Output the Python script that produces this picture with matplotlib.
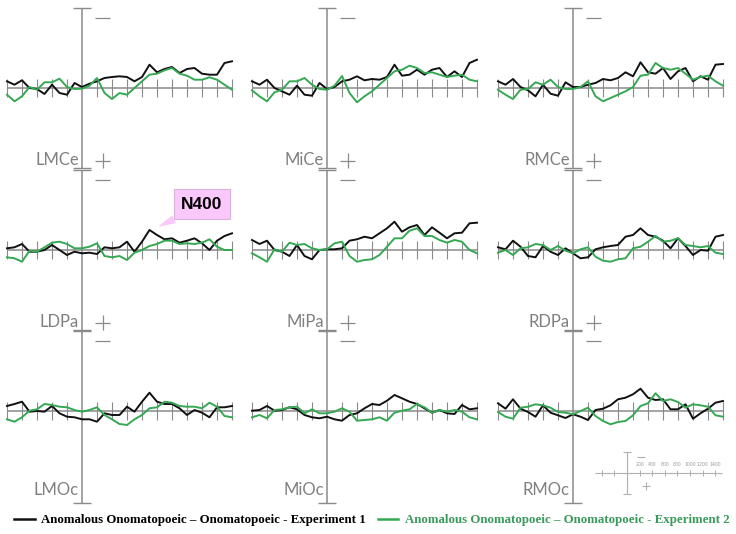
import numpy as np
import matplotlib.pyplot as plt
from matplotlib.lines import Line2D

# time axis (ms), one sample every 50 ms
times = np.arange(-500, 1001, 50)

# amplitudes in microvolts (negative plotted up)
lmce_exp1 = [-0.67, -0.33, -0.77, 0, 0.1, 0.6, -0.33, 0.5, 0.67, -0.5, -0.1, -0.43, -0.67, -1.0, -1.1, -1.17,
             -1.1, -0.67, -1.1, -2.33, -1.57, -1.9, -2.1, -1.5, -1.9, -2.0, -1.43, -1.33, -1.33, -2.5, -2.67]
lmce_exp2 = [0.67, 1.33, 0.83, -0.1, 0.17, -0.57, -0.57, -0.93, -0.1, 0.1, 0.07, -0.23, -1.0, 0.5, 1.1, 0.5,
             0.67, 0, -0.67, -1.33, -1.43, -1.77, -2.0, -1.43, -1.23, -0.83, -0.83, -1.07, -0.83, -0.33, 0.17]
mice_exp1 = [-0.67, -0.33, -0.83, 0, 0.33, 0.67, -0.23, 0.67, 0.77, -0.5, 0.1, -0.1, -0.67, -0.83, -1.17, -0.77,
             -0.9, -0.83, -1.1, -2.33, -1.23, -1.33, -1.83, -1.33, -1.83, -2.0, -1.1, -1.67, -1.1, -2.5, -2.83]
mice_exp2 = [0.23, 0.83, 1.33, 0.43, 0.17, -0.67, -0.67, -1.0, -0.33, 0.1, 0.17, -0.23, -1.2, 0.5, 1.43, 0.83,
             0.33, -0.33, -1.0, -1.67, -1.83, -2.23, -2.0, -1.5, -1.57, -1.33, -1.1, -1.23, -1.33, -0.83, -0.67]
rmce_exp1 = [-0.67, -0.33, -0.9, -0.1, 0.23, 0.83, -0.33, 0.57, 0.77, -0.57, -0.1, -0.1, -0.33, -0.5, -0.9, -0.77,
             -1.0, -1.57, -1.17, -2.57, -1.57, -1.43, -2.0, -0.9, -1.67, -2.0, -0.67, -1.17, -0.83, -2.33, -2.4]
rmce_exp2 = [0.17, 0.67, 1.1, 0.17, 0.1, -0.57, -0.33, -0.83, -0.1, 0.1, 0.1, -0.1, -0.67, 0.83, 1.33, 1.0,
             0.67, 0.33, -0.1, -1.23, -1.33, -2.5, -2.0, -1.83, -2.0, -1.43, -0.83, -1.1, -1.23, -0.67, -0.23]

ldpa_exp1 = [-0.17, -0.27, -0.6, 0.17, 0.17, 0, -0.5, 0, 0.5, 0.17, 0.33, 0.27, 0.4, -0.27, -0.17, -0.27,
             -0.83, 0.17, -0.83, -2.0, -1.5, -1.07, -1.17, -0.73, -0.93, -1.17, -0.67, 0, -0.93, -1.4, -1.67]
ldpa_exp2 = [0.73, 0.83, 1.17, 0.07, 0.17, -0.27, -0.73, -0.83, -0.6, -0.17, -0.17, -0.33, -0.67, 0.6, 0.73, 0.6,
             1.0, 0.27, 0, -0.4, -0.6, -0.93, -0.93, -0.6, -0.67, -0.6, -0.73, -1.07, -0.33, 0, 0]
mipa_exp1 = [-1.0, -0.6, -0.93, 0, 0.17, 0.6, -0.5, 0.6, 0.93, 0, -0.07, -0.07, -0.17, -0.93, -1.07, -1.33,
             -1.17, -1.67, -2.17, -2.83, -1.83, -2.27, -2.5, -1.5, -2.27, -1.73, -1.17, -1.67, -1.73, -2.67, -2.73]
mipa_exp2 = [0.33, 0.73, 1.17, -0.07, 0.17, -0.73, -0.5, -0.6, -0.17, 0, -0.07, -0.67, -0.83, 0.6, 1.17, 1.0,
             0.93, 0.5, -0.33, -1.17, -1.17, -1.93, -2.17, -1.4, -1.4, -1.0, -0.73, -1.0, -0.83, 0, 0.33]
rdpa_exp1 = [-0.27, -0.07, -0.93, -0.33, 0.6, 0.73, -0.4, 0.17, 0.5, -0.17, 0.33, 0.83, 0.73, -0.07, -0.27, -0.4,
             -0.5, -1.33, -1.5, -2.17, -1.5, -1.33, -0.93, -0.17, -1.17, -0.4, 0.5, 0, 0.07, -1.33, -1.5]
rdpa_exp2 = [0.27, 0, 0.5, -0.17, -0.27, -0.6, -0.5, 0, -0.4, 0.07, 0.33, -0.07, -0.27, 0.67, 1.07, 1.17,
             0.93, 0.83, -0.17, -0.33, -0.83, -1.4, -0.83, -0.93, -1.17, -0.5, -0.4, -0.27, -0.4, 0.27, 0.4]

lmoc_exp1 = [-0.5, -0.7, -0.93, 0.07, 0, 0.07, -0.5, 0.23, 0.57, 0.63, 0.83, 0.83, 1.07, 0.23, 0.4, 0.4,
             -0.43, 0.07, -0.93, -1.83, -0.93, -0.7, -0.7, -0.27, 0.4, -0.1, 0.17, 0.63, -0.37, -0.37, -0.5]
lmoc_exp2 = [0.83, 1.07, 0.63, -0.03, -0.17, -0.7, -0.6, -0.43, -0.37, -0.1, 0.07, -0.1, -0.37, 0.4, 0.83, 1.3,
             1.4, 0.83, 0.4, -0.27, -0.37, -0.93, -0.83, -0.5, -0.43, -0.43, -0.27, -0.83, -0.43, 0.5, 0.63]
mioc_exp1 = [-0.03, -0.1, -0.5, -0.03, -0.1, -0.37, -0.17, 0.4, 0.63, 0.73, 0.57, 0.83, 0.97, 0.4, 0.23, -0.27,
             -0.7, -0.6, -1.03, -1.6, -1.27, -0.93, -0.7, -0.27, 0.17, -0.1, 0.23, 0.3, -0.6, -0.17, -0.27]
mioc_exp2 = [0.63, 0.4, 0.73, -0.1, -0.17, -0.37, -0.43, 0.23, -0.17, 0.23, 0.23, 0.07, -0.27, 0.07, 0.97, 0.9,
             0.83, 0.63, 0.97, 0.17, -0.03, -0.17, -0.7, -0.37, 0.17, -0.1, 0.07, -0.1, 0.07, 0.63, 0.83]
rmoc_exp1 = [-0.77, -0.23, -1.17, -0.23, 0.1, 0.57, -0.57, 0.17, 0.43, 0.7, 0.33, 0.57, 0.9, -0.1, -0.23, -0.57,
             -1.17, -1.33, -1.67, -2.23, -1.33, -1.1, -1.17, -0.17, -0.17, -0.67, 0.77, 0.23, -0.23, -0.83, -1.0]
rmoc_exp2 = [0.1, 0.57, 0.77, -0.33, -0.43, -0.67, -0.57, -0.33, 0.1, 0.17, 0.33, 0, -0.33, 0.5, 1.0, 1.33,
             1.1, 1.0, 0.43, -0.5, -0.77, -1.77, -1.0, -1.17, -0.9, -0.33, -0.67, -0.57, -0.43, 0.43, 0.57]

channels = [["LMCe", "MiCe", "RMCe"],
            ["LDPa", "MiPa", "RDPa"],
            ["LMOc", "MiOc", "RMOc"]]
exp1 = {"LMCe": lmce_exp1, "MiCe": mice_exp1, "RMCe": rmce_exp1,
        "LDPa": ldpa_exp1, "MiPa": mipa_exp1, "RDPa": rdpa_exp1,
        "LMOc": lmoc_exp1, "MiOc": mioc_exp1, "RMOc": rmoc_exp1}
exp2 = {"LMCe": lmce_exp2, "MiCe": mice_exp2, "RMCe": rmce_exp2,
        "LDPa": ldpa_exp2, "MiPa": mipa_exp2, "RDPa": rdpa_exp2,
        "LMOc": lmoc_exp2, "MiOc": mioc_exp2, "RMOc": rmoc_exp2}

label1 = "Anomalous Onomatopoeic \u2013 Onomatopoeic - Experiment 1"
label2 = "Anomalous Onomatopoeic \u2013 Onomatopoeic - Experiment 2"
scale_ticks = [200, 400, 600, 800, 1000, 1200, 1400]

W, H = 736, 534
BLACK = "#111111"
GREEN = "#35a853"
GRAY = "#8a8a8a"

fig = plt.figure(figsize=(W / 100, H / 100), dpi=100)

axis_x = [82, 327, 573]   # pixel x of time zero per column
base_y = [88, 250, 411]   # pixel y of the baseline per row

tick_ms = [t for t in range(-500, 1001, 100) if t != 0]

for r in range(3):
    for c in range(3):
        name = channels[r][c]
        left = axis_x[c] - 81
        top = base_y[r] - 86
        ax = fig.add_axes([left / W, 1 - (top + 182) / H, 234 / W, 182 / H])
        ax.set_xlim(-540, 1020)
        ax.set_ylim(9.6, -8.6)
        ax.axis("off")

        bottom_end = 9.2 if r == 2 else 8.0
        ax.hlines(0, -500, 1000, color=GRAY, lw=1.1)
        ax.vlines(tick_ms, -0.9, 0.9, color=GRAY, lw=0.8)
        ax.vlines(0, -8, bottom_end, color=GRAY, lw=1.1)
        ax.hlines([-8, bottom_end], -57, 57, color=GRAY, lw=1.0)
        # polarity markers
        ax.hlines(-7, 87, 187, color=GRAY, lw=0.9)
        if r < 2:
            ax.hlines(7.3, 87, 187, color=GRAY, lw=0.9)
            ax.vlines(137, 6.5, 8.0, color=GRAY, lw=0.9)
        label_y = 7.9 if r == 2 else 7.2
        ax.text(-20, label_y, name, ha="right", va="center", color="#808080",
                fontsize=12, family="Lato")

        ax.plot(times, exp1[name], color=BLACK, lw=1.4)
        ax.plot(times, exp2[name], color=GREEN, lw=1.4)

        if name == "LDPa":
            ax.annotate("N400", xy=(507, -2.3), xytext=(800, -4.6),
                        ha="center", va="center", fontsize=12.5, fontweight="bold",
                        family="Liberation Sans", color="black",
                        bbox=dict(boxstyle="square,pad=0.42", fc="#fbc8fb", ec="#d8b4d8", lw=0.8),
                        arrowprops=dict(arrowstyle="wedge,tail_width=0.5", fc="#fbc8fb",
                                        ec="none", shrinkA=0, shrinkB=0, relpos=(0.2, 0.0)),
                        annotation_clip=False, zorder=5)

# small scale key, bottom right
sx = fig.add_axes([590 / W, 1 - 498 / H, 138 / W, 50 / H])
sx.set_xlim(-587, 1603)
sx.set_ylim(9.6, -9.6)
sx.axis("off")
LIGHT = "#b0b0b0"
sx.hlines(0, -500, 1500, color=LIGHT, lw=0.8)
sx.vlines([-400, -200] + scale_ticks, -1.3, 1.3, color=LIGHT, lw=0.7)
sx.vlines(0, -8, 8, color=LIGHT, lw=0.8)
sx.hlines([-8, 8], -70, 70, color=LIGHT, lw=0.8)
sx.hlines(-6, 160, 290, color=LIGHT, lw=0.8)
sx.hlines(5, 240, 360, color=LIGHT, lw=0.8)
sx.vlines(300, 3.5, 6.5, color=LIGHT, lw=0.8)
for t in scale_ticks:
    sx.text(t, -3.3, str(t), ha="center", va="center", fontsize=3.3, color="#999999")

handles = [Line2D([], [], color=BLACK, lw=1.8), Line2D([], [], color=GREEN, lw=1.8)]
leg = fig.legend(handles, [label1, label2], loc="center", bbox_to_anchor=(0.505, 1 - 520 / H),
                 ncol=2, frameon=False, handlelength=1.6, handletextpad=0.5, columnspacing=0.9,
                 prop=dict(family="Liberation Serif", weight="bold", size=9.3))
leg.get_texts()[1].set_color("#3a9a5c")

fig.savefig("out.png", dpi=100)
